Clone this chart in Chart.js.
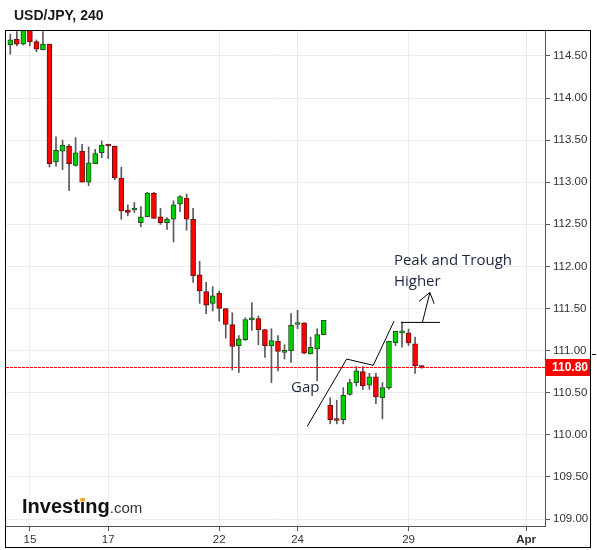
<!DOCTYPE html>
<html>
<head>
<meta charset="utf-8">
<script src="https://cdn.jsdelivr.net/npm/chart.js@4.4.0/dist/chart.umd.min.js"></script>
<style>
  html, body { margin: 0; padding: 0; background: #fff; }
  canvas { display: block; }
</style>
</head>
<body>
<canvas id="chart" width="597" height="550"></canvas>
<script>
// USD/JPY 4h candles
const opens  = [114.63,114.70,114.64,114.83,114.67,114.57,114.64,113.24,113.37,113.43,113.20,113.37,113.00,113.22,113.35,113.44,
                113.43,113.05,112.67,112.67,112.52,112.59,112.87,112.59,112.52,112.56,112.74,112.81,112.56,111.90,111.70,111.56,
                111.68,111.50,111.31,111.06,111.13,111.365,111.38,111.25,111.06,111.11,110.98,111.00,111.31,111.33,110.96,111.02,
                111.19,110.35,110.19,110.18,110.48,110.62,110.75,110.59,110.69,110.44,110.56,111.09,111.21,111.21,111.08,110.82];
const highs  = [114.76,114.79,114.86,114.88,114.69,114.79,114.64,113.54,113.50,113.45,113.53,113.45,113.42,113.39,113.49,113.45,
                113.43,113.18,112.73,112.76,112.71,112.88,112.88,112.69,112.58,112.78,112.84,112.86,112.69,112.06,111.81,111.76,
                111.71,111.50,111.45,111.18,111.39,111.57,111.41,111.25,111.26,111.18,111.07,111.44,111.48,111.33,111.16,111.26,
                111.36,110.44,110.41,110.56,110.66,110.81,110.81,110.73,110.73,110.62,111.11,111.23,111.34,111.255,111.16,110.82];
const lows   = [114.52,114.62,114.63,114.62,114.55,114.57,113.18,113.19,113.15,112.90,113.19,113.00,112.96,113.22,113.29,113.28,
                113.03,112.56,112.60,112.64,112.47,112.59,112.57,112.50,112.44,112.29,112.65,112.43,111.81,111.56,111.44,111.47,
                111.35,111.15,110.77,110.74,111.12,111.24,111.07,110.92,110.62,110.76,110.90,110.86,111.26,110.96,110.96,110.64,
                111.19,110.13,110.13,110.13,110.47,110.58,110.54,110.54,110.37,110.19,110.54,111.06,111.04,111.06,110.73,110.79];
const closes = [114.69,114.64,114.82,114.67,114.58,114.64,113.22,113.38,113.44,113.22,113.35,113.00,113.23,113.34,113.44,113.43,
                113.05,112.66,112.64,112.68,112.59,112.87,112.57,112.52,112.56,112.73,112.83,112.56,111.89,111.71,111.54,111.65,
                111.50,111.31,111.05,111.14,111.37,111.37,111.25,111.06,111.12,110.99,111.00,111.30,111.33,110.97,111.04,111.19,
                111.36,110.18,110.17,110.47,110.62,110.76,110.58,110.69,110.45,110.56,111.11,111.23,111.225,111.09,110.82,110.80];

// day labels: candle index -> label
const dayTicks  = [3, 15, 32, 44, 61, 79];
const dayLabels = ['15', '17', '22', '24', '29', 'Apr'];
const priceTicks = [109, 109.5, 110, 110.5, 111, 111.5, 112, 112.5, 113, 113.5, 114, 114.5];
const lastPrice = 110.80;

// hand drawn notes, in (candle index, price)
const trendLine  = [[45.48, 110.10], [51.52, 110.90], [55.59, 110.825], [58.76, 111.347]];
const peakLine   = [[59.83, 111.335], [65.8, 111.335]];
const arrowShaft = [[63.12, 111.335], [64.27, 111.69]];
const arrowHead  = [[62.59, 111.584], [64.27, 111.69], [64.93, 111.557]];
const notes = [
  { text: 'Gap', at: [43.0, 110.505] },
  { text: 'Peak and Trough', at: [58.76, 112.02] },
  { text: 'Higher', at: [58.76, 111.77] }
];

const bodies = opens.map((o, i) => ({ x: i, y: [Math.min(o, closes[i]), Math.max(o, closes[i])] }));
const wicks = lows.map((l, i) => ({ x: i, y: [l, highs[i]] }));
const isUp = opens.map((o, i) => closes[i] >= o);

Chart.defaults.font.family = '"Liberation Sans", Arial, sans-serif';

const extras = {
  id: 'extras',
  beforeDraw(chart) {
    const ctx = chart.ctx;
    ctx.save();
    ctx.fillStyle = '#fff';
    ctx.fillRect(0, 0, chart.width, chart.height);
    ctx.restore();
  },
  afterDatasetsDraw(chart) {
    const { ctx, chartArea } = chart;
    const y = Math.round(chart.scales.y.getPixelForValue(lastPrice));
    ctx.save();
    ctx.fillStyle = 'rgb(255,0,0)';
    // dotted last price line
    for (let x = chartArea.left; x < chartArea.right; x += 4) {
      ctx.fillRect(x, y, Math.min(3, chartArea.right - x), 1);
    }
    ctx.restore();
  },
  afterDraw(chart) {
    const { ctx, chartArea } = chart;
    const xs = chart.scales.x, ys = chart.scales.y;
    const P = p => [xs.getPixelForValue(p[0]), ys.getPixelForValue(p[1])];
    ctx.save();

    // title
    ctx.fillStyle = '#1a1a1a';
    ctx.font = 'bold 14px "Liberation Sans", Arial';
    ctx.textBaseline = 'alphabetic';
    ctx.fillText('USD/JPY, 240', 14, 20);

    // outer frame
    ctx.strokeStyle = '#000';
    ctx.lineWidth = 1;
    ctx.strokeRect(5.5, 30.5, 585, 517);
    ctx.beginPath();
    ctx.moveTo(592, 354.5);
    ctx.lineTo(596, 354.5);
    ctx.stroke();

    // last price box
    const py = Math.round(ys.getPixelForValue(lastPrice));
    ctx.fillStyle = '#ff0000';
    ctx.fillRect(chartArea.right + 1, py - 8, 590 - chartArea.right - 1, 17);
    ctx.fillStyle = '#fff';
    ctx.font = 'bold 12px "Liberation Sans", Arial';
    ctx.textBaseline = 'middle';
    ctx.fillText(lastPrice.toFixed(2), 552, py + 1);

    // notes
    ctx.strokeStyle = '#000';
    ctx.lineWidth = 1;
    [trendLine, peakLine, arrowShaft, arrowHead].forEach(line => {
      ctx.beginPath();
      line.forEach((p, i) => {
        const [x, y] = P(p);
        if (i === 0) ctx.moveTo(x, y); else ctx.lineTo(x, y);
      });
      ctx.stroke();
    });
    ctx.fillStyle = '#1c2541';
    ctx.font = '15px "Open Sans", sans-serif';
    ctx.textBaseline = 'alphabetic';
    notes.forEach(n => {
      const [x, y] = P(n.at);
      ctx.fillText(n.text, x, y);
    });

    // logo
    const lx = 22, ly = 513;
    ctx.fillStyle = '#111';
    ctx.font = 'bold 20px "Liberation Sans", Arial';
    ctx.fillText('Investing', lx, ly);
    const wInv = ctx.measureText('Investing').width;
    const iX = lx + ctx.measureText('Invest').width;
    const iW = ctx.measureText('i').width;
    ctx.fillStyle = '#f7a21b';
    ctx.fillRect(iX + 0.5, ly - 15, iW - 1, 3.5);
    ctx.fillStyle = '#333';
    ctx.font = '15px "Liberation Sans", Arial';
    ctx.fillText('.com', lx + wInv, ly);

    ctx.restore();
  }
};

new Chart(document.getElementById('chart'), {
  type: 'bar',
  data: {
    datasets: [
      {
        data: bodies,
        backgroundColor: isUp.map(u => u ? '#00d000' : '#ff0000'),
        borderColor: isUp.map(u => u ? '#1e4d1e' : '#661010'),
        borderWidth: 1,
        borderSkipped: false,
        barThickness: 5,
        minBarLength: 2,
        grouped: false
      },
      {
        data: wicks,
        backgroundColor: '#5a5a5a',
        borderWidth: 0,
        barThickness: 1,
        grouped: false
      }
    ]
  },
  options: {
    responsive: false,
    animation: false,
    events: [],
    layout: { padding: { left: 6, top: 31, right: 7, bottom: 3 } },
    plugins: { legend: { display: false }, tooltip: { enabled: false } },
    scales: {
      x: {
        type: 'linear',
        min: -0.66,
        max: 81.9,
        offset: false,
        afterBuildTicks: s => { s.ticks = dayTicks.map(v => ({ value: v })); },
        afterFit: s => { s.height = 21; },
        ticks: {
          autoSkip: false,
          maxRotation: 0,
          padding: 2,
          color: '#333',
          font: c => ({ size: 11.5, weight: c.tick && dayLabels[dayTicks.indexOf(c.tick.value)] === 'Apr' ? 'bold' : 'normal' }),
          callback: v => dayLabels[dayTicks.indexOf(v)]
        },
        grid: { color: '#ececec', offset: false, tickLength: 5, tickColor: '#555' },
        border: { color: '#555' }
      },
      y: {
        position: 'right',
        min: 108.917,
        max: 114.796,
        afterBuildTicks: s => { s.ticks = priceTicks.map(v => ({ value: v })); },
        afterFit: s => { s.width = 45; },
        ticks: {
          padding: 3,
          color: '#333',
          font: { size: 11.5 },
          callback: v => v.toFixed(2)
        },
        grid: { color: '#ececec', tickLength: 5, tickColor: '#555' },
        border: { color: '#555' }
      }
    }
  },
  plugins: [extras]
});
</script>
</body>
</html>
